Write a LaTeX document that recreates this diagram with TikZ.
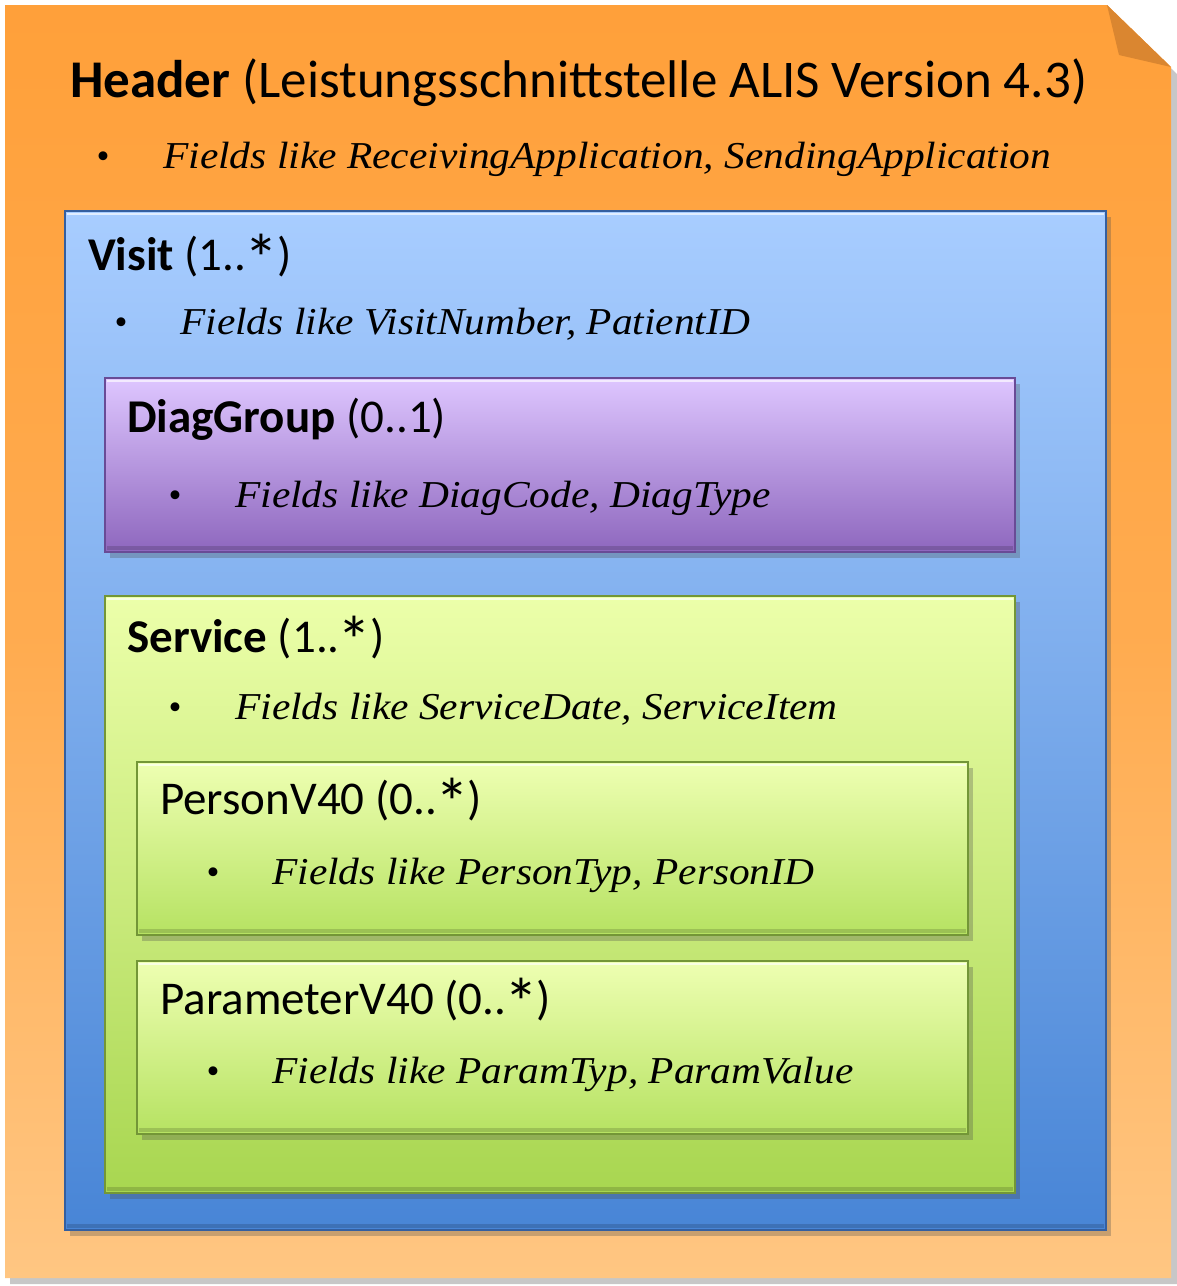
\documentclass[tikz,border=0pt]{standalone}
\usepackage{fontspec}
\setmainfont{Carlito}
\newfontfamily\tms{Liberation Serif}
\newfontfamily\tmsw[FakeStretch=1.09]{Liberation Serif}
\usetikzlibrary{shadows}
\newcommand\bigast{\kern-0.04em\raisebox{-0.27em}{\scalebox{1.45}{*}}\kern-0.03em}
\definecolor{orTop}{RGB}{255,160,58}
\definecolor{orBot}{RGB}{255,198,130}
\definecolor{orFold}{RGB}{218,134,48}
\definecolor{blTop}{RGB}{168,205,255}
\definecolor{blBot}{RGB}{72,133,214}
\definecolor{blEdge}{RGB}{52,95,160}
\definecolor{puTop}{RGB}{222,198,255}
\definecolor{puBot}{RGB}{142,103,190}
\definecolor{puEdge}{RGB}{105,75,150}
\definecolor{grTop}{RGB}{236,255,170}
\definecolor{grBot}{RGB}{168,214,80}
\definecolor{grEdge}{RGB}{115,150,55}
\definecolor{gr2Top}{RGB}{238,255,178}
\definecolor{gr2Bot}{RGB}{182,226,98}
\tikzset{
  box/.style={anchor=north west, inner sep=0pt, outer sep=0pt, draw, line width=1.4pt,
    drop shadow={shadow xshift=5pt, shadow yshift=-6pt, opacity=0.3, fill=black!70}},
  visitbox/.style={box, top color=blTop, bottom color=blBot, draw=blEdge},
  diagbox/.style={box, top color=puTop, bottom color=puBot, draw=puEdge},
  servbox/.style={box, top color=grTop, bottom color=grBot, draw=grEdge},
  subbox/.style={box, top color=gr2Top, bottom color=gr2Bot, draw=grEdge},
  hilite/.style={white, opacity=0.65, line width=2pt},
  lowlite/.style={black, opacity=0.15, line width=4pt},
  title/.style={anchor=base west, inner sep=0pt, font=\fontsize{47}{50}\selectfont},
  bigtitle/.style={anchor=base west, inner sep=0pt, font=\fontsize{53}{56}\selectfont},
  fld/.style={anchor=base west, inner sep=0pt, font=\tmsw\itshape\fontsize{38}{40}\selectfont},
  bul/.style={anchor=base, inner sep=0pt, font=\tms\fontsize{37}{40}\selectfont},
}
\begin{document}
\begin{tikzpicture}[x=1pt,y=-1pt]
\useasboundingbox (0,0) rectangle (1177,1286);
% outer page with folded corner
\fill[black, opacity=0.22] (10,12) -- (1112,12) -- (1177,74) -- (1177,1284) -- (10,1284) -- cycle;
\shade[top color=orTop, bottom color=orBot, middle color=orTop!70!orBot]
  (5,5) -- (1107,5) -- (1171,67) -- (1171,1278) -- (5,1278) -- cycle;
\fill[orFold] (1107,5) -- (1119,55) -- (1171,67) -- cycle;
\node[bigtitle] (htitle) at (70,97) {\textbf{Header} (Leistungsschnittstelle ALIS Version 4.3)};
\node[bul] (hbul) at (103,168) {•};
\node[fld] (hfld) at (163,168) {Fields like ReceivingApplication, SendingApplication};
% Visit
\node[visitbox, minimum width=1041pt, minimum height=1019pt] (visit) at (65,211) {};
\draw[hilite] (67,213.5) -- (1104,213.5);
\draw[lowlite] (67,1226) -- (1104,1226);
\node[title] (vtitle) at (88,270) {\textbf{Visit} (1..\bigast)};
\node[bul] (vbul) at (121,334) {•};
\node[fld] (vfld) at (180,334) {Fields like VisitNumber, PatientID};
% DiagGroup
\node[diagbox, minimum width=910pt, minimum height=174pt] (diag) at (105,378) {};
\draw[hilite] (107,380.5) -- (1013,380.5);
\draw[lowlite] (107,548) -- (1013,548);
\node[title] (dtitle) at (127,432) {\textbf{DiagGroup} (0..1)};
\node[bul] (dbul) at (175,507) {•};
\node[fld] (dfld) at (235,507) {Fields like DiagCode, DiagType};
% Service
\node[servbox, minimum width=910pt, minimum height=597pt] (serv) at (105,596) {};
\draw[hilite] (107,598.5) -- (1013,598.5);
\draw[lowlite] (107,1189) -- (1013,1189);
\node[title] (stitle) at (127,652) {\textbf{Service} (1..\bigast)};
\node[bul] (sbul) at (175,719) {•};
\node[fld] (sfld) at (235,719) {Fields like ServiceDate, ServiceItem};
% PersonV40
\node[subbox, minimum width=831pt, minimum height=173pt] (pers) at (137,762) {};
\draw[hilite] (139,764.5) -- (966,764.5);
\draw[lowlite] (139,931) -- (966,931);
\node[title] (ptitle) at (160,814) {PersonV40 (0..\bigast)};
\node[bul] (pbul) at (213,884) {•};
\node[fld] (pfld) at (272,884) {Fields like PersonTyp, PersonID};
% ParameterV40
\node[subbox, minimum width=831pt, minimum height=173pt] (param) at (137,961) {};
\draw[hilite] (139,963.5) -- (966,963.5);
\draw[lowlite] (139,1130) -- (966,1130);
\node[title] (ptitle2) at (160,1014) {ParameterV40 (0..\bigast)};
\node[bul] (pbul2) at (213,1083) {•};
\node[fld] (pfld2) at (272,1083) {Fields like ParamTyp, ParamValue};
\end{tikzpicture}
\end{document}
